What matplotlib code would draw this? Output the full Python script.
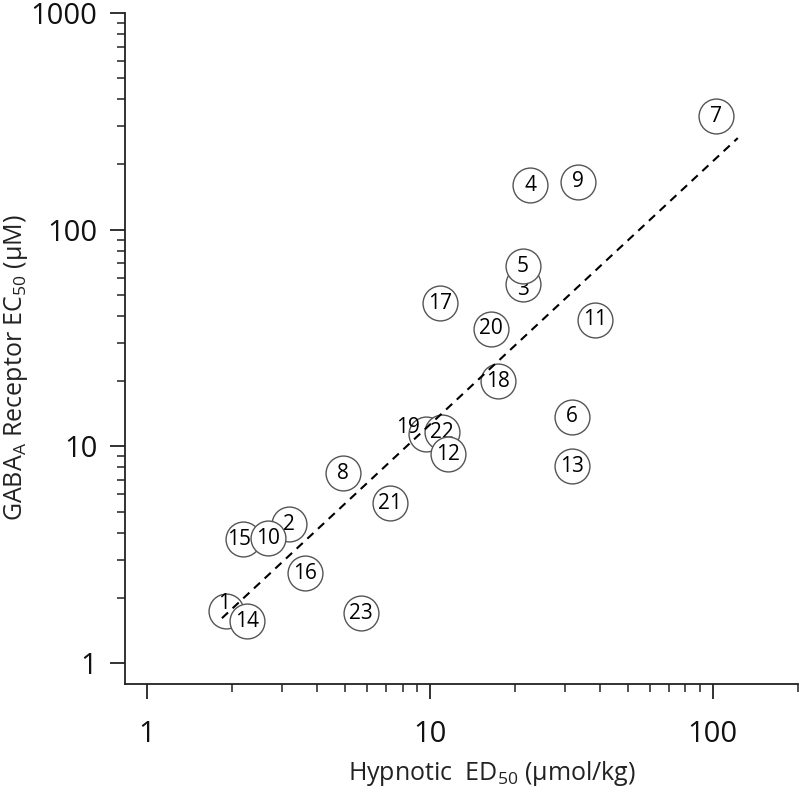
import matplotlib.pyplot as plt
from matplotlib.ticker import NullFormatter, FixedLocator, FixedFormatter

plt.rcParams['font.family'] = ['Open Sans', 'DejaVu Sans']

# compounds in drawing order (later ones sit on top)
compounds = ['1', '14', '15', '2', '10', '16', '23', '8', '21', '19', '22', '12',
             '17', '20', '18', '3', '5', '4', '9', '11', '6', '13', '7']
hypnotic_ed50 = [1.90, 2.26, 2.18, 3.17, 2.68, 3.62, 5.70, 4.93, 7.22, 9.68, 11.0, 11.6,
                 10.85, 16.4, 17.4, 21.3, 21.3, 22.6, 33.3, 38.3, 31.7, 31.7, 102.5]
gaba_ec50 = [1.74, 1.56, 3.73, 4.38, 3.77, 2.60, 1.70, 7.53, 5.47, 11.4, 11.6, 9.21,
             45.8, 34.8, 20.0, 56.1, 67.9, 160, 166, 38.3, 13.7, 8.11, 334]

# regression line end points
fit_x = [1.84, 122.5]
fit_y = [1.61, 264.7]

x_ticks = [1, 10, 100]
y_ticks = [1, 10, 100, 1000]

fig = plt.figure(figsize=(8, 7.93), dpi=100)
ax = fig.add_axes([125 / 800, 1 - 684 / 793, 673 / 800, 671 / 793])

ax.set_xscale('log')
ax.set_yscale('log')
ax.set_xlim(0.836, 200)
ax.set_ylim(0.8, 1000)

# label nudges in points, where the number is pushed off its circle
label_shift = {'19': (-13, 5), '1': (-1, 5), '3': (0, -4), '15': (-3, 0)}

for i, (name, x, y) in enumerate(zip(compounds, hypnotic_ed50, gaba_ec50)):
    z = 3 + i * 2
    ax.scatter([x], [y], s=630, facecolor='white', edgecolor='#555555',
               linewidth=1.0, zorder=z)
    dx, dy = label_shift.get(name, (0, 0))
    ax.annotate(name, (x, y), xytext=(dx, dy), textcoords='offset points',
                ha='center', va='center', fontsize=15, color='black',
                zorder=z + 1)

ax.plot(fit_x, fit_y, color='black', linestyle=(0, (4, 3)), linewidth=1.5, zorder=100)

for s in ['top', 'right']:
    ax.spines[s].set_visible(False)
for s in ['left', 'bottom']:
    ax.spines[s].set_linewidth(1.3)
    ax.spines[s].set_color('#222222')

x_minor = [m * d for d in (1, 10, 100) for m in range(2, 10) if m * d <= 200]
y_minor = [m * d for d in (1, 10, 100) for m in range(2, 10)]

ax.xaxis.set_major_locator(FixedLocator(x_ticks))
ax.xaxis.set_major_formatter(FixedFormatter([str(v) for v in x_ticks]))
ax.yaxis.set_major_locator(FixedLocator(y_ticks))
ax.yaxis.set_major_formatter(FixedFormatter([str(v) for v in y_ticks]))
ax.xaxis.set_minor_locator(FixedLocator(x_minor))
ax.yaxis.set_minor_locator(FixedLocator(y_minor))
ax.xaxis.set_minor_formatter(NullFormatter())
ax.yaxis.set_minor_formatter(NullFormatter())

ax.tick_params(which='major', length=11, width=1.3, color='#222222',
               labelsize=21, labelcolor='#111111')
ax.tick_params(axis='x', which='major', pad=15)
ax.tick_params(axis='y', which='major', pad=9)
ax.tick_params(which='minor', length=6, width=1.1, color='#222222')

ax.set_xlabel(r'Hypnotic  ED$_\mathregular{50}$ ($\mathregular{\mu}$mol/kg)', fontsize=18,
              color='#222222')
ax.set_ylabel(r'GABA$_\mathregular{A}$ Receptor EC$_\mathregular{50}$ ($\mathregular{\mu}$M)',
              fontsize=18, color='#222222')
ax.xaxis.set_label_coords(0.545, -0.112)
ax.yaxis.set_label_coords(-0.141, 0.471)

fig.savefig('out.png', dpi=100)
